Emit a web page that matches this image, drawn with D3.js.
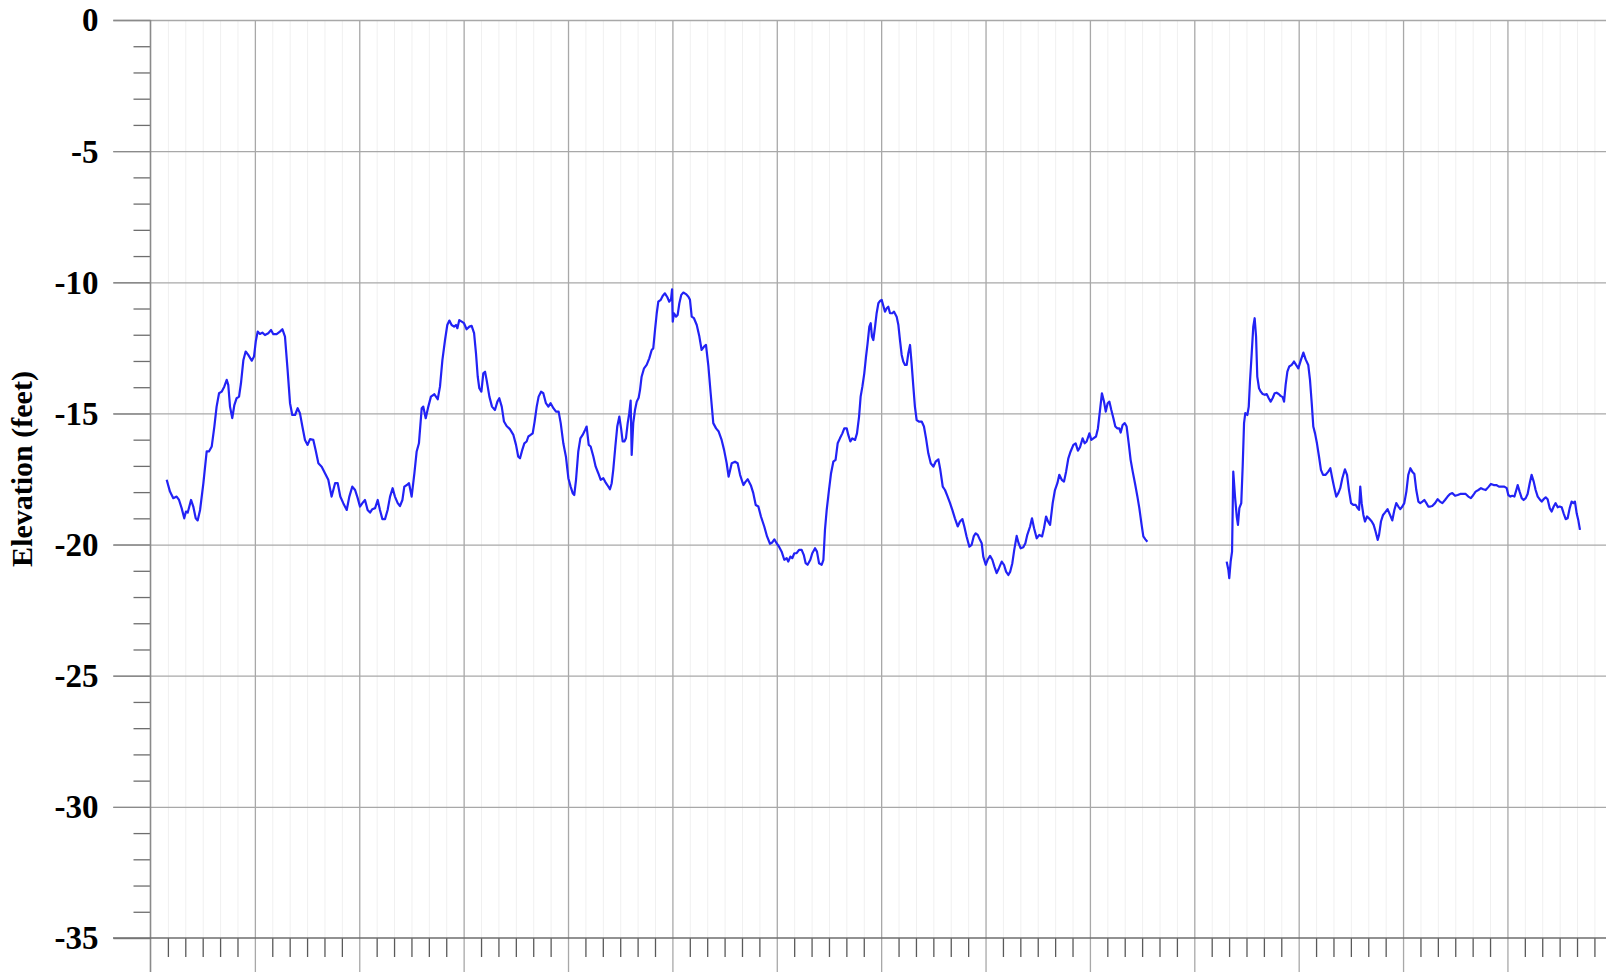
<!DOCTYPE html>
<html><head><meta charset="utf-8">
<script src="https://cdn.jsdelivr.net/npm/d3@7"></script>
<style>html,body{margin:0;padding:0;background:#fff}svg{display:block}</style>
</head><body>
<svg id="chart" width="1606" height="972"></svg>
<script>
// ---------- data ----------
const yMajorTicks = [0, -5, -10, -15, -20, -25, -30, -35];
const yMinorTicks = [-1,-2,-3,-4,-6,-7,-8,-9,-11,-12,-13,-14,-16,-17,-18,-19,-21,-22,-23,-24,-26,-27,-28,-29,-31,-32,-33,-34];
const xMajorTicks = [0, 60, 120, 180, 240, 300, 360, 420, 480, 540, 600, 660, 720, 780, 840];
const xMinorTicks = [10,20,30,40,50,70,80,90,100,110,130,140,150,160,170,190,200,210,220,230,250,260,270,280,290,310,320,330,340,350,370,380,390,400,410,430,440,450,460,470,490,500,510,520,530,550,560,570,580,590,610,620,630,640,650,670,680,690,700,710,730,740,750,760,770,790,800,810,820,830];
const yLabel = "Elevation (feet)";

const station1 = [
9.3,11.2,13.1,15.0,16.4,17.9,19.4,20.4,21.4,23.3,
24.6,26.0,27.1,28.5,30.4,32.3,33.6,35.2,36.7,38.0,
39.4,40.9,42.4,43.8,44.7,45.7,47.0,48.2,49.5,50.9,
52.0,53.4,54.7,56.2,58.2,59.5,60.5,61.6,62.9,64.3,
65.8,67.7,69.3,70.6,72.5,74.4,75.8,77.3,78.8,80.2,
81.5,83.1,84.6,85.9,87.3,88.8,90.3,91.7,93.6,94.9,
96.5,98.4,100.3,102.2,104.1,106.1,107.6,109.1,110.8,112.8,
114.3,116.0,117.6,119.1,120.4,121.8,123.3,124.8,126.2,127.5,
129.1,130.6,131.9,133.3,134.8,136.3,137.7,139.2,140.5,142.1,
143.4,144.8,145.9,147.4,148.6,150.1,151.7,153.0,154.3,155.9,
156.8,158.2,159.7,161.2,163.2,165.1,166.4,167.8,169.3,
170.6,171.8,173.1,174.5,175.6,176.4,177.5,178.9,180.2,181.7,
183.3,184.6,186.0,187.1,188.1,189.0,190.2,191.3,192.3,193.2,
194.8,196.3,198.0,199.4,200.5,201.9,203.2,204.7,206.6,208.6,
210.1,211.4,212.4,213.7,214.9,216.2,217.2,218.5,219.7,220.8,
222.0,223.1,224.5,225.8,227.3,228.7,230.0,231.6,233.1,234.6,
235.8,237.3,238.8,240.2,241.5,242.7,243.6,244.6,245.9,247.1,
248.4,249.8,250.7,251.9,253.0,254.6,255.9,257.4,258.8,260.3,
261.3,262.6,264.1,265.1,266.0,267.2,268.3,269.5,270.5,271.4,
272.4,273.3,274.3,275.2,276.0,276.6,277.5,278.5,279.5,280.6,
281.4,282.3,283.7,285.2,286.7,288.1,289.0,290.0,291.0,291.9,
293.3,294.4,295.7,297.1,298.2,299.2,299.8,300.2,300.9,302.1,
303.0,304.0,305.1,306.3,307.8,309.2,310.1,311.1,312.4,314.0,
315.5,316.8,318.2,319.3,320.7,322.0,323.5,325.1,326.6,328.3,
329.7,331.2,332.3,
334.1,336.0,337.5,338.9,340.8,342.1,343.3,345.2,346.5,347.9,
349.4,350.9,352.8,354.4,356.1,357.4,358.6,359.9,361.3,362.8,
364.3,365.7,366.6,367.8,368.9,370.1,371.4,372.8,374.3,375.5,
376.6,377.7,379.3,380.4,382.0,383.1,384.3,385.8,386.8,387.7,
388.7,390.0,391.2,392.5,393.8,395.0,396.3,397.7,398.8,400.2,
401.1,402.3,403.4,405.0,406.1,407.3,408.2,409.2,410.3,411.3,
412.2,413.2,414.0,414.7,415.5,416.5,417.4,418.4,419.5,420.3,
421.4,422.2,423.2,424.1,425.1,426.4,427.4,428.9,429.9,430.8,
431.8,432.7,433.7,434.7,435.6,436.6,437.5,438.5,439.4,440.4,
441.7,443.3,444.6,445.8,447.1,448.5,450.0,451.3,452.9,454.0,
455.4,456.7,458.2,459.6,460.9,462.4,464.0,465.3,466.7,467.8,
469.1,470.7,472.0,473.2,474.3,475.5,476.8,477.8,478.7,480.1,
481.2,482.6,483.9,485.1,486.4,487.7,489.3,490.6,491.8,493.1,
494.2,495.4,496.5,
497.9,499.0,500.2,501.7,502.9,504.0,505.6,506.7,507.9,509.4,
510.9,512.5,513.6,514.8,515.9,517.1,518.6,519.9,521.3,522.4,
523.8,525.1,526.3,527.6,528.9,530.5,531.8,533.1,534.3,535.8,
537.0,538.1,539.7,540.8,542.0,543.5,544.6,545.8,546.9,548.1,
549.1,550.2,551.2,552.3,553.5,554.6,555.8,556.9,557.7,558.8,
560.0,561.1,562.3,563.4,564.6,565.9,567.3,568.4,569.6,570.7,
571.9,573.0
];
const elevation1 = [
-17.53,-17.98,-18.23,-18.17,-18.30,-18.61,-19.00,-18.74,-18.78,-18.30,
-18.55,-19.00,-19.08,-18.68,-17.66,-16.45,-16.45,-16.26,-15.50,-14.74,
-14.23,-14.17,-13.98,-13.72,-13.91,-14.74,-15.18,-14.68,-14.42,-14.36,
-13.85,-12.96,-12.64,-12.77,-12.99,-12.83,-12.26,-11.88,-11.97,-11.92,
-12.01,-11.94,-11.82,-11.98,-11.98,-11.88,-11.79,-12.07,-13.34,-14.61,
-15.06,-15.06,-14.80,-14.99,-15.50,-16.01,-16.20,-15.98,-16.01,-16.39,
-16.90,-17.03,-17.28,-17.53,-18.17,-17.66,-17.66,-18.17,-18.42,-18.68,
-18.17,-17.79,-17.92,-18.23,-18.55,-18.42,-18.30,-18.68,-18.78,-18.65,
-18.61,-18.30,-18.68,-19.03,-19.03,-18.68,-18.17,-17.85,-18.17,-18.42,
-18.53,-18.30,-17.79,-17.73,-17.66,-18.17,-17.28,-16.45,-16.14,-14.80,
-14.74,-15.18,-14.74,-14.36,-14.27,-14.46,-13.98,-12.96,-12.20,
-11.63,-11.46,-11.63,-11.69,-11.63,-11.75,-11.44,-11.50,-11.56,-11.79,
-11.69,-11.66,-11.94,-12.71,-13.60,-14.04,-14.17,-13.47,-13.41,-13.72,
-14.36,-14.74,-14.87,-14.55,-14.42,-14.74,-15.31,-15.48,-15.60,-15.82,
-16.20,-16.65,-16.71,-16.39,-16.14,-16.07,-15.88,-15.82,-15.76,-15.31,
-14.74,-14.36,-14.17,-14.23,-14.61,-14.74,-14.61,-14.80,-14.93,-14.93,
-15.37,-16.14,-16.65,-17.47,-17.79,-18.04,-18.11,-17.53,-16.45,-15.95,
-15.82,-15.63,-15.50,-16.20,-16.26,-16.65,-17.03,-17.28,-17.53,-17.47,
-17.60,-17.73,-17.89,-17.66,-17.15,-16.26,-15.50,-15.12,-15.57,-16.07,
-16.07,-15.95,-15.37,-14.99,-14.51,-16.58,-15.37,-14.87,-14.55,-14.40,
-14.10,-13.60,-13.28,-13.15,-12.90,-12.58,-12.52,-11.82,-11.18,-10.74,
-10.67,-10.52,-10.42,-10.57,-10.74,-10.65,-10.27,-11.50,-11.18,-11.31,
-11.25,-10.80,-10.48,-10.39,-10.45,-10.55,-10.67,-11.31,-11.37,-11.63,
-12.07,-12.58,-12.45,-12.39,-13.21,-14.23,-15.37,-15.57,-15.69,-16.01,
-16.39,-16.90,-17.41,
-16.90,-16.84,-16.90,-17.34,-17.73,-17.60,-17.51,-17.76,-18.04,-18.49,
-18.55,-18.93,-19.31,-19.69,-19.97,-19.92,-19.80,-19.95,-20.08,-20.27,
-20.58,-20.52,-20.65,-20.46,-20.52,-20.33,-20.33,-20.20,-20.20,-20.39,
-20.71,-20.77,-20.58,-20.33,-20.14,-20.27,-20.71,-20.77,-20.58,-19.44,
-18.68,-17.92,-17.28,-16.84,-16.77,-16.14,-15.95,-15.76,-15.57,-15.57,
-15.82,-16.07,-15.95,-16.01,-15.76,-15.12,-14.36,-13.98,-13.47,-12.83,
-12.33,-11.69,-11.56,-12.07,-12.20,-11.69,-11.18,-10.80,-10.70,-10.67,
-10.93,-11.12,-10.99,-10.93,-11.18,-11.18,-11.12,-11.31,-11.63,-12.20,
-12.77,-13.02,-13.15,-13.15,-12.71,-12.39,-13.09,-13.98,-14.74,-15.25,
-15.31,-15.31,-15.50,-15.95,-16.52,-16.90,-17.03,-16.84,-16.75,-17.15,
-17.79,-17.92,-18.17,-18.42,-18.68,-19.00,-19.31,-19.12,-19.03,-19.31,
-19.69,-20.08,-20.01,-19.69,-19.57,-19.63,-19.82,-19.95,-20.46,-20.77,
-20.58,-20.43,-20.58,-20.84,-21.09,-20.90,-20.65,-20.77,-21.03,-21.16,
-21.03,-20.71,-20.20,
-19.67,-19.95,-20.14,-20.10,-19.95,-19.63,-19.31,-19.00,-19.38,-19.76,
-19.63,-19.69,-19.38,-18.93,-19.12,-19.25,-18.42,-17.92,-17.66,-17.34,
-17.53,-17.60,-17.22,-16.71,-16.45,-16.20,-16.14,-16.42,-16.29,-15.95,
-16.14,-16.07,-15.76,-16.01,-15.95,-15.88,-15.57,-14.87,-14.23,-14.55,
-14.93,-14.61,-14.55,-14.87,-15.18,-15.50,-15.57,-15.57,-15.73,-15.44,
-15.37,-15.50,-16.14,-16.77,-17.22,-17.66,-18.17,-18.61,-19.19,-19.69,
-19.80,-19.89
];
const station2 = [
618.6,619.6,620.1,620.9,621.7,622.4,623.4,624.4,625.1,625.9,
627.0,627.8,628.6,629.3,630.5,631.3,632.0,633.0,633.9,634.7,
635.5,636.2,637.2,638.2,639.3,640.5,641.6,642.8,643.9,645.0,
646.2,647.3,648.5,649.6,650.8,651.6,652.5,653.5,654.6,656.0,
657.3,658.5,659.8,
661.3,662.7,664.0,665.5,666.5,667.5,668.4,669.4,670.5,671.7,
672.8,674.0,675.5,677.0,678.2,679.3,680.5,681.6,682.8,683.9,
685.1,686.6,687.8,688.9,690.1,691.4,692.8,693.9,694.7,695.4,
696.2,697.2,698.1,699.3,700.4,702.0,703.1,704.2,705.4,706.2,
707.3,708.5,709.6,711.1,712.5,713.8,715.0,716.1,717.3,718.4,
719.6,720.7,721.9,723.0,724.2,725.3,726.5,727.6,728.8,729.9,
731.1,732.2,733.4,734.5,735.7,736.8,738.4,739.9,741.2,742.6,
744.1,745.6,747.0,748.3,749.9,751.4,752.9,754.6,756.0,757.5,
759.0,760.4,761.7,763.3,764.8,766.1,767.5,769.0,770.5,772.1,
773.6,775.1,776.7,778.2,779.6,780.5,781.7,782.8,784.0,785.1,
785.9,787.0,788.2,789.3,790.5,791.6,792.8,793.9,795.1,796.2,
797.4,798.5,799.7,800.8,802.0,803.1,804.3,805.4,806.6,807.7,
808.9,810.0,811.2,812.3,813.5,814.6,815.8,816.9,817.9,818.8,
819.8,820.7,821.7
];
const elevation2 = [
-20.65,-20.97,-21.28,-20.65,-20.27,-17.22,-18.17,-18.93,-19.25,-18.61,
-18.42,-17.03,-15.37,-14.99,-15.06,-14.74,-13.79,-12.71,-11.69,-11.37,
-12.07,-13.60,-14.04,-14.17,-14.26,-14.29,-14.26,-14.42,-14.55,-14.42,
-14.23,-14.21,-14.26,-14.33,-14.38,-14.55,-13.91,-13.41,-13.21,-13.15,
-13.02,-13.15,-13.28,
-12.96,-12.68,-12.94,-13.15,-13.72,-14.61,-15.50,-15.76,-16.14,-16.65,
-17.15,-17.34,-17.34,-17.22,-17.09,-17.47,-17.85,-18.17,-18.04,-17.85,
-17.47,-17.13,-17.34,-17.92,-18.42,-18.49,-18.49,-18.61,-18.68,-17.79,
-18.42,-18.87,-19.12,-18.93,-19.00,-19.12,-19.25,-19.50,-19.82,-19.63,
-19.12,-18.87,-18.78,-18.65,-18.87,-19.08,-18.68,-18.42,-18.55,-18.65,
-18.55,-18.42,-17.98,-17.34,-17.09,-17.22,-17.31,-17.92,-18.36,-18.42,
-18.36,-18.30,-18.42,-18.55,-18.55,-18.53,-18.42,-18.27,-18.36,-18.42,
-18.30,-18.17,-18.07,-18.04,-18.14,-18.11,-18.07,-18.07,-18.07,-18.17,
-18.23,-18.11,-17.98,-17.92,-17.85,-17.89,-17.92,-17.81,-17.69,-17.73,
-17.73,-17.79,-17.79,-17.79,-17.85,-18.11,-18.17,-18.14,-18.17,-17.92,
-17.73,-17.98,-18.23,-18.30,-18.23,-18.07,-17.66,-17.34,-17.60,-17.92,
-18.17,-18.27,-18.36,-18.27,-18.20,-18.27,-18.61,-18.74,-18.55,-18.42,
-18.58,-18.55,-18.58,-18.81,-19.03,-19.00,-18.61,-18.36,-18.42,-18.36,
-18.81,-19.06,-19.44
];

// ---------- layout ----------
const W = 1606, H = 972;
const plotLeft = 150.5, plotTop = 20, plotBottom = 938;
const svg = d3.select("#chart");
svg.append("rect").attr("width", W).attr("height", H).attr("fill", "#fff");

const x = d3.scaleLinear().domain([0, 840]).range([plotLeft, plotLeft + 14 * 104.38]);
const y = d3.scaleLinear().domain([-35, 0]).range([plotBottom, plotTop]);

const gridColor = "#a8a8a8";

// faint minor vertical grid
svg.append("g")
  .attr("transform", `translate(0,${plotTop})`)
  .call(d3.axisBottom(x).tickValues(xMinorTicks).tickSize(plotBottom - plotTop).tickFormat(""))
  .call(g => g.select(".domain").remove())
  .call(g => g.selectAll("line").attr("stroke", "#f0f0f0").attr("stroke-width", 1));

// major vertical grid (through plot and down past the axis)
svg.append("g")
  .attr("transform", `translate(0,${plotTop})`)
  .call(d3.axisBottom(x).tickValues(xMajorTicks.filter(v => v > 0)).tickSize(H - plotTop).tickFormat(""))
  .call(g => g.select(".domain").remove())
  .call(g => g.selectAll("line").attr("stroke", gridColor).attr("stroke-width", 1.3));

// horizontal major grid, extending left as the major ticks
svg.append("g")
  .attr("transform", `translate(${W},0)`)
  .call(d3.axisLeft(y).tickValues(yMajorTicks.filter(v => v > -35)).tickSize(W - 113).tickFormat(""))
  .call(g => g.select(".domain").remove())
  .call(g => g.selectAll("line").attr("stroke", gridColor).attr("stroke-width", 1.3));

// y minor ticks
svg.append("g")
  .attr("transform", `translate(${plotLeft},0)`)
  .call(d3.axisLeft(y).tickValues(yMinorTicks).tickSize(17).tickFormat(""))
  .call(g => g.select(".domain").remove())
  .call(g => g.selectAll("line").attr("stroke", "#6e6e6e").attr("stroke-width", 1.3));

// y axis with major ticks and labels
const yAxisG = svg.append("g")
  .attr("transform", `translate(${plotLeft},0)`)
  .call(d3.axisLeft(y).tickValues(yMajorTicks).tickSize(37).tickPadding(15).tickSizeOuter(0).tickFormat(d3.format("d")));
yAxisG.select(".domain").remove();
yAxisG.selectAll("line").attr("stroke", "#8a8a8a").attr("stroke-width", 1.4);
yAxisG.selectAll("text")
  .attr("font-family", "'Times New Roman','Liberation Serif',serif")
  .attr("font-weight", "bold")
  .attr("font-size", 33)
  .attr("fill", "#000")
  .attr("dy", "0.33em")
  .text(d => d === 0 ? "0" : "-" + Math.abs(d));

// vertical axis line (continues down to page bottom)
svg.append("line")
  .attr("x1", plotLeft).attr("x2", plotLeft)
  .attr("y1", plotTop).attr("y2", H)
  .attr("stroke", "#8a8a8a").attr("stroke-width", 1.6);

// x axis: minor ticks
svg.append("g")
  .attr("transform", `translate(0,${plotBottom})`)
  .call(d3.axisBottom(x).tickValues(xMinorTicks).tickSize(19).tickFormat(""))
  .call(g => g.select(".domain").remove())
  .call(g => g.selectAll("line").attr("stroke", "#5a5a5a").attr("stroke-width", 1.3));

// x axis line (from the -35 tick across)
svg.append("line")
  .attr("x1", 113).attr("x2", W)
  .attr("y1", plotBottom).attr("y2", plotBottom)
  .attr("stroke", "#6e6e6e").attr("stroke-width", 1.6);

// y axis title
svg.append("text")
  .attr("transform", `translate(32,${469}) rotate(-90)`)
  .attr("text-anchor", "middle")
  .attr("font-family", "'Times New Roman','Liberation Serif',serif")
  .attr("font-weight", "bold")
  .attr("font-size", 30)
  .attr("fill", "#000")
  .text(yLabel);

// ---------- profile line ----------
const line = d3.line().x(d => x(d[0])).y(d => y(d[1]));
const segments = [d3.zip(station1, elevation1), d3.zip(station2, elevation2)];
svg.append("g").selectAll("path")
  .data(segments)
  .join("path")
  .attr("d", line)
  .attr("fill", "none")
  .attr("stroke", "#2222f5")
  .attr("stroke-width", 2.2)
  .attr("stroke-linejoin", "round");
</script>
</body></html>
